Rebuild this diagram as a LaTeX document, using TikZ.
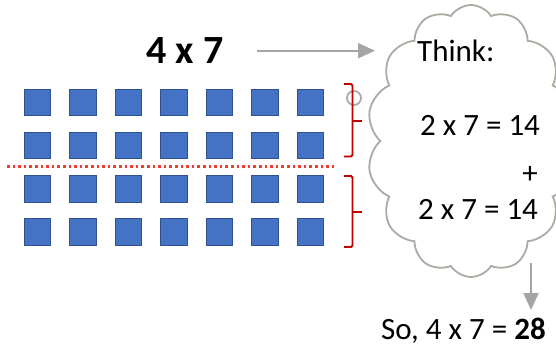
\documentclass[tikz,border=0pt]{standalone}
\usepackage{fontspec}
\setmainfont{Carlito}
\usetikzlibrary{shapes.symbols,arrows.meta}
\definecolor{sqblue}{RGB}{68,114,196}
\definecolor{sqedge}{RGB}{47,82,143}
\definecolor{brred}{RGB}{192,0,0}
\definecolor{dotred}{RGB}{240,62,55}
\definecolor{cloudgray}{RGB}{172,170,162}
\definecolor{arrgray}{RGB}{165,165,165}
\tikzset{
  sq/.style={draw=sqedge, line width=0.8pt, fill=sqblue, minimum size=26.5pt, inner sep=0pt},
  txt/.style={inner sep=0pt, font=\fontsize{31}{36}\selectfont},
  brace/.style={draw=brred, line width=1.8pt, rounded corners=1.5pt},
  arr/.style={draw=arrgray, line width=2pt, -{Triangle[length=17pt,width=15pt]}},
  cloudline/.style={draw=cloudgray, line width=1.8pt}
}
\begin{document}
\begin{tikzpicture}[x=1pt,y=-1pt]
\useasboundingbox (0,0) rectangle (556,346);
\begin{scope}
\clip (0,0) rectangle (556,346);
\node[cloud, cloud puffs=14, cloud puff arc=115, cloud ignores aspect, minimum width=208pt, minimum height=272pt, cloudline, fill=white] (cl) at (471,141) {};
\end{scope}
\node[cloudline, circle, minimum size=14pt, inner sep=0pt] (bub) at (354,98) {};
% squares
\foreach \r in {0,...,3}{
  \foreach \c in {0,...,6}{
    \node[sq] (s\r\c) at ({37.3+45.55*\c},{102.5+43.1*\r}) {};
  }
}
% dotted divider
\coordinate (d1) at (7,166.7);
\coordinate (d2) at (337,166.7);
\draw[dotred, line width=2.6pt, dash pattern=on 2.6pt off 3pt] (d1) -- (d2);
% brackets
\draw[brace] (344,84) -- (352.5,84) -- (352.5,156.5) -- (344,156.5);
\draw[brace, rounded corners=0pt] (352.5,120.7) -- (361.5,120.7);
\draw[brace] (344,176) -- (352.5,176) -- (352.5,247) -- (344,247);
\draw[brace, rounded corners=0pt] (352.5,211.7) -- (361.5,211.7);
% texts
\node[inner sep=0pt, font=\fontsize{40}{44}\selectfont\bfseries, anchor=base] (t47) at (185,63) {4 x 7};
\node[txt, anchor=base west] (think) at (417,61) {Think:};
\node[txt, anchor=base west] (eq1) at (420,135) {2 x 7 = 14};
\node[txt, anchor=base] (plus) at (530,183) {+};
\node[txt, anchor=base west] (eq2) at (418,219) {2 x 7 = 14};
\node[txt, anchor=base west] (so) at (381,339) {So, 4 x 7 = \textbf{28}};
% arrows
\coordinate (a1) at (257,50.7);
\coordinate (a2) at (375,50.7);
\draw[arr] (a1) -- (a2);
\coordinate (b1) at (531,263);
\coordinate (b2) at (531,310);
\draw[arr] (b1) -- (b2);
\end{tikzpicture}
\end{document}
